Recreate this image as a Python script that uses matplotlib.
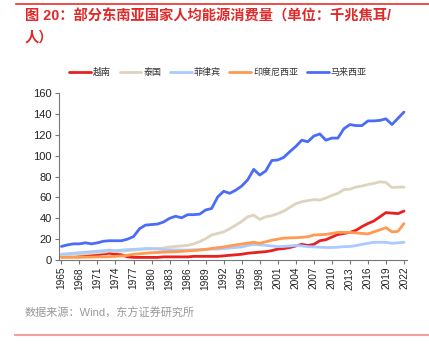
import matplotlib
matplotlib.use("Agg")
import matplotlib.pyplot as plt
import numpy as np

plt.rcParams['font.family'] = ['Liberation Sans', 'Noto Sans CJK SC', 'DejaVu Sans']

years = list(range(1965, 2023))
series_names = ["越南", "泰国", "菲律宾", "印度尼西亚", "马来西亚"]

vietnam = [3, 3.5, 4, 4, 4.5, 4.5, 5, 6, 6.5, 5.5, 5, 3, 2.5, 2.5, 2.5, 2.5, 2.5, 3, 3, 3,
           3, 3, 3.5, 3.5, 3.5, 3.5, 3.5, 4, 4.5, 5, 5.5, 6.5, 7, 7.5, 8, 9, 10.5, 11, 12, 13.5,
           15, 14, 15, 18.5, 19.5, 22, 24.5, 25.5, 26.5, 28.5, 32, 35, 37.5, 41.5, 45.5, 45, 44.5, 47]
thailand = [4, 4.5, 5, 5.5, 6, 6.5, 7, 7.5, 8.5, 8, 8.5, 9, 9.5, 10, 10.5, 10.5, 11, 11.5, 12.5, 13,
            13.5, 14, 15.5, 17.5, 20.5, 24, 25.5, 27, 30, 33.5, 37, 41.5, 43, 39, 41.5, 42.5, 44.5, 47, 50.5, 54,
            56, 57, 58, 57.5, 59.5, 62, 64, 67.5, 68, 70, 71, 72.5, 73.5, 75, 74.5, 69.5, 70, 70]
philippines = [5.5, 6, 6.5, 7, 7.5, 8, 8.5, 9, 9.5, 9, 9.5, 10, 10.2, 10.5, 11, 11, 10.5, 10, 9.8, 9.6,
               9.5, 9.5, 9.8, 10, 10.2, 10.5, 10.5, 11, 11.5, 12, 12.5, 14, 15, 14.5, 14, 13.5, 12.8, 13, 13.5, 14,
               13.5, 12.8, 12.5, 12.3, 12, 12, 12.3, 12.8, 13, 13.8, 15, 16, 17, 17, 17, 16, 16.5, 17]
indonesia = [2.5, 2.5, 2.5, 2.5, 2.7, 2.8, 3, 3, 3.2, 3.5, 3.8, 4.5, 5.5, 6, 6.5, 7, 7.2, 7.5, 7.8, 8,
             8.3, 8.7, 9, 9.5, 10.2, 11, 11.8, 12.5, 13.5, 14.5, 15.3, 16.2, 17, 16, 17.5, 19, 20, 21, 21.2, 21.4,
             21.8, 22.3, 24, 24.2, 24.6, 25.5, 26.5, 26.5, 26.5, 26, 25.5, 25, 27, 29, 31, 27, 27.5, 35]
malaysia = [13, 14.5, 15.5, 15.5, 16.5, 15.5, 16.5, 18, 18.5, 18.5, 18.5, 20, 22.5, 30, 33.5, 34, 34.5, 36.5, 40, 42,
            40.5, 43.5, 43.5, 44, 48, 49.5, 60.5, 66, 64, 67, 71, 77, 87, 81.5, 85.5, 95.5, 96, 98.5, 104, 109,
            115, 113.5, 119, 121, 115, 117, 117, 126, 130, 129, 129, 133.5, 133.5, 134, 135.5, 130, 136, 142]

colors = ["#e8201f", "#ddd3bf", "#a9cbff", "#ff9a50", "#4a6cf7"]
yticks = [0, 20, 40, 60, 80, 100, 120, 140, 160]
xticks = list(range(1965, 2023, 3))

fig = plt.figure(figsize=(4.29, 3.5), dpi=100)
ax = fig.add_axes([59/429, 1-260/350, (407-59)/429, (260-93.3)/350])

all_series = [vietnam, thailand, philippines, indonesia, malaysia]
for name, vals, c in zip(series_names, all_series, colors):
    ax.plot(years, vals, color=c, lw=2.0, label=name, solid_capstyle='round')

ax.set_xlim(1964.6, 2022.5)
ax.set_ylim(0, 160)
ax.set_yticks(yticks)
ax.set_xticks(xticks)
ax.set_xticklabels([str(x) for x in xticks], rotation=90, fontsize=7.3, color='#222222')
ax.set_yticklabels([str(y) for y in yticks], fontsize=8, color='#222222')
for s in ['top', 'right']:
    ax.spines[s].set_visible(False)
for s in ['left', 'bottom']:
    ax.spines[s].set_color('#777777')
    ax.spines[s].set_linewidth(0.8)
ax.tick_params(axis='both', length=3, width=0.8, color='#777777', pad=2)

leg = fig.legend(loc='center left', bbox_to_anchor=(69/429, 1-72.5/350), ncol=5, frameon=False,
                 fontsize=6.5, handlelength=2.4, handletextpad=0.25, columnspacing=0.95,
                 borderaxespad=0, borderpad=0)
for t in leg.get_texts():
    t.set_color('#333333')

# title and decorations
fig.add_artist(plt.Line2D([16/429, 1.0], [1-3.5/350, 1-3.5/350], color='#e8302a', lw=1.2))
fig.text(25/429, 1-16/350, "图 20：部分东南亚国家人均能源消费量（单位：千兆焦耳/", fontsize=10.3,
         color='#e02a2a', fontweight='bold', va='center', ha='left')
fig.text(25/429, 1-38/350, "人）", fontsize=10.3, color='#e02a2a', fontweight='bold', va='center', ha='left')
fig.text(25/429, 1-313/350, "数据来源：Wind，东方证券研究所", fontsize=8, color='#999999', va='center', ha='left')
fig.add_artist(plt.Line2D([15/429, 1.0], [1-335/350, 1-335/350], color='#f4a0a0', lw=1.5))

fig.savefig("out.png", dpi=100)
